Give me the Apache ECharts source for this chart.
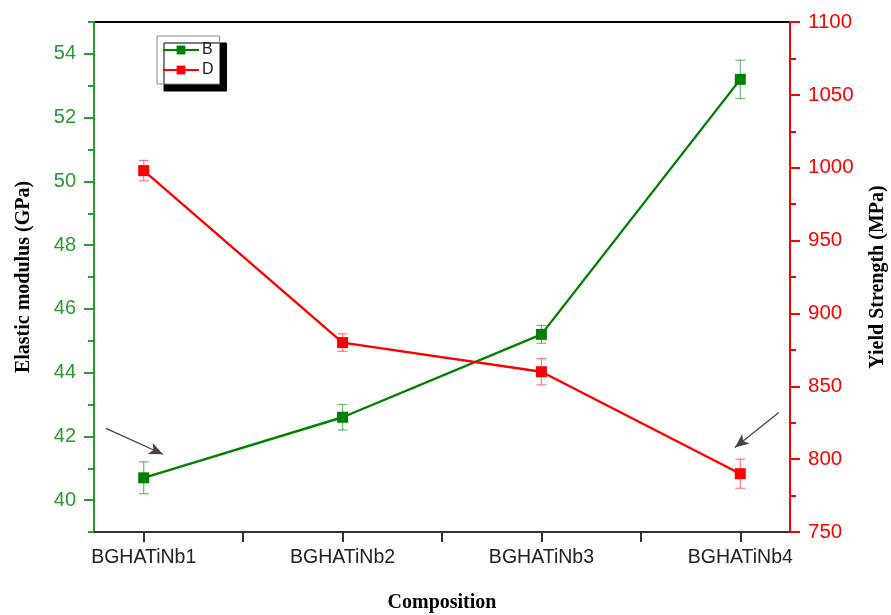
<!DOCTYPE html>
<html>
<head>
<meta charset="utf-8">
<script src="https://cdn.jsdelivr.net/npm/echarts@6/dist/echarts.min.js"></script>
<style>
  html, body { margin: 0; padding: 0; background: #fff; }
  #chart { width: 891px; height: 615px; }
</style>
</head>
<body>
<div id="chart"></div>
<script>
// Compositions along the x axis
const categories = ['BGHATiNb1', 'BGHATiNb2', 'BGHATiNb3', 'BGHATiNb4'];

// B: elastic modulus (GPa), left axis
const modulus = [40.7, 42.6, 45.2, 53.2];
const modulusErr = [0.5, 0.4, 0.28, 0.6];

// D: yield strength (MPa), right axis
const strength = [998, 880, 860, 790];
const strengthErr = [7, 6, 9, 10];

// Axis tick values
const modulusMajor = [40, 42, 44, 46, 48, 50, 52, 54];
const modulusMinor = [39, 41, 43, 45, 47, 49, 51, 53, 55];
const xTickPos = [1, 1.5, 2, 2.5, 3, 3.5, 4];

// Annotation arrows, in data units: [x, y] start -> end
const arrowB = [[0.81, 42.25], [1.097, 41.44]];
const arrowD = [[4.194, 832], [3.973, 808]];

const GREEN = '#008000';
const GREEN_AXIS = '#2a9a2a';
const RED = '#ff0000';
const SANS = 'Liberation Sans, Arial, sans-serif';
const SERIF = 'Liberation Serif, Times New Roman, serif';

const xPos = categories.map((_, i) => i + 1);
const bData = xPos.map((x, i) => [x, modulus[i]]);
const dData = xPos.map((x, i) => [x, strength[i]]);
const bErr = xPos.map((x, i) => [x, modulus[i] - modulusErr[i], modulus[i] + modulusErr[i]]);
const dErr = xPos.map((x, i) => [x, strength[i] - strengthErr[i], strength[i] + strengthErr[i]]);

function errorBars(color) {
  return function (params, api) {
    const x = api.value(0);
    const lo = api.coord([x, api.value(1)]);
    const hi = api.coord([x, api.value(2)]);
    const half = 5;
    const style = { stroke: color, lineWidth: 1.2 };
    return {
      type: 'group',
      children: [
        { type: 'line', shape: { x1: lo[0], y1: lo[1], x2: hi[0], y2: hi[1] }, style },
        { type: 'line', shape: { x1: lo[0] - half, y1: lo[1], x2: lo[0] + half, y2: lo[1] }, style },
        { type: 'line', shape: { x1: hi[0] - half, y1: hi[1], x2: hi[0] + half, y2: hi[1] }, style }
      ]
    };
  };
}

const chart = echarts.init(document.getElementById('chart'), null, { renderer: 'canvas' });

chart.setOption({
  animation: false,
  backgroundColor: '#fff',
  grid: {
    left: 94, right: 101, top: 22, bottom: 83,
    outerBoundsMode: 'none',
    containLabel: false,
    show: true, borderColor: '#000', borderWidth: 2, backgroundColor: 'transparent'
  },
  legend: {
    left: 157, top: 36,
    orient: 'vertical',
    padding: [6, 6, 6, 5],
    itemWidth: 36, itemHeight: 11, itemGap: 4,
    backgroundColor: '#fff',
    borderColor: '#888', borderWidth: 1,
    shadowColor: '#000', shadowBlur: 0, shadowOffsetX: 7, shadowOffsetY: 7,
    textStyle: { fontFamily: SANS, fontSize: 16, color: '#222', padding: [0, 0, 0, -2] },
    data: ['B', 'D']
  },
  xAxis: {
    type: 'value',
    min: 0.75, max: 4.25,
    name: 'Composition',
    nameLocation: 'middle',
    nameGap: 61,
    nameTextStyle: { fontFamily: SERIF, fontWeight: 'bold', fontSize: 20, color: '#000' },
    axisLine: { show: true, onZero: false, lineStyle: { color: '#333', width: 2 } },
    axisTick: { show: true, length: 10, customValues: xTickPos, lineStyle: { color: '#333', width: 2 } },
    axisLabel: {
      customValues: xPos, margin: 16,
      fontFamily: SANS, fontSize: 19.5, color: '#222',
      formatter: v => categories[Math.round(v) - 1]
    },
    splitLine: { show: false }
  },
  yAxis: [
    {
      type: 'value',
      position: 'left',
      min: 39, max: 55,
      name: 'Elastic modulus (GPa)',
      nameLocation: 'middle',
      nameRotate: 90,
      nameGap: 60,
      nameTextStyle: { fontFamily: SERIF, fontWeight: 'bold', fontSize: 20, color: '#000' },
      axisLine: { show: true, onZero: false, lineStyle: { color: GREEN_AXIS, width: 2 } },
      axisTick: { show: true, length: 10, customValues: modulusMajor, lineStyle: { color: GREEN_AXIS, width: 2 } },
      axisLabel: { customValues: modulusMajor, margin: 18, fontFamily: SANS, fontSize: 20, color: GREEN_AXIS },
      splitLine: { show: false }
    },
    {
      type: 'value',
      position: 'right',
      min: 750, max: 1100, interval: 50,
      name: 'Yield Strength (MPa)',
      nameLocation: 'middle',
      nameRotate: 90,
      nameGap: 78,
      nameTextStyle: { fontFamily: SERIF, fontWeight: 'bold', fontSize: 20, color: '#000' },
      axisLine: { show: true, onZero: false, lineStyle: { color: RED, width: 2 } },
      axisTick: { show: true, length: 10, lineStyle: { color: RED, width: 2 } },
      minorTick: { show: true, splitNumber: 2, length: 6, lineStyle: { color: RED, width: 2 } },
      axisLabel: { margin: 18, fontFamily: SANS, fontSize: 20.5, color: RED, formatter: v => String(v) },
      splitLine: { show: false }
    },
    {
      // minor ticks of the modulus axis
      type: 'value',
      position: 'left',
      min: 39, max: 55,
      axisLine: { show: false },
      axisTick: { show: true, length: 6, customValues: modulusMinor, lineStyle: { color: GREEN_AXIS, width: 2 } },
      axisLabel: { show: false },
      splitLine: { show: false }
    }
  ],
  series: [
    {
      name: 'B', type: 'line', yAxisIndex: 0, data: bData,
      symbol: 'rect', symbolSize: 11,
      lineStyle: { color: GREEN, width: 2.4 },
      itemStyle: { color: GREEN },
      z: 5,
      markLine: {
        silent: true, symbol: ['none', 'arrow'], symbolSize: [9, 14],
        label: { show: false },
        lineStyle: { color: '#444', width: 1.3, type: 'solid' },
        data: [[{ coord: arrowB[0] }, { coord: arrowB[1] }]]
      }
    },
    {
      name: 'D', type: 'line', yAxisIndex: 1, data: dData,
      symbol: 'rect', symbolSize: 11,
      lineStyle: { color: RED, width: 2.4 },
      itemStyle: { color: RED },
      z: 5,
      markLine: {
        silent: true, symbol: ['none', 'arrow'], symbolSize: [9, 14],
        label: { show: false },
        lineStyle: { color: '#444', width: 1.3, type: 'solid' },
        data: [[{ coord: arrowD[0] }, { coord: arrowD[1] }]]
      }
    },
    {
      name: 'B err', type: 'custom', yAxisIndex: 0, data: bErr,
      renderItem: errorBars('rgba(0,128,0,0.55)'),
      encode: { x: 0, y: [1, 2] }, z: 4
    },
    {
      name: 'D err', type: 'custom', yAxisIndex: 1, data: dErr,
      renderItem: errorBars('rgba(255,0,0,0.5)'),
      encode: { x: 0, y: [1, 2] }, z: 4
    }
  ]
});
</script>
</body>
</html>
